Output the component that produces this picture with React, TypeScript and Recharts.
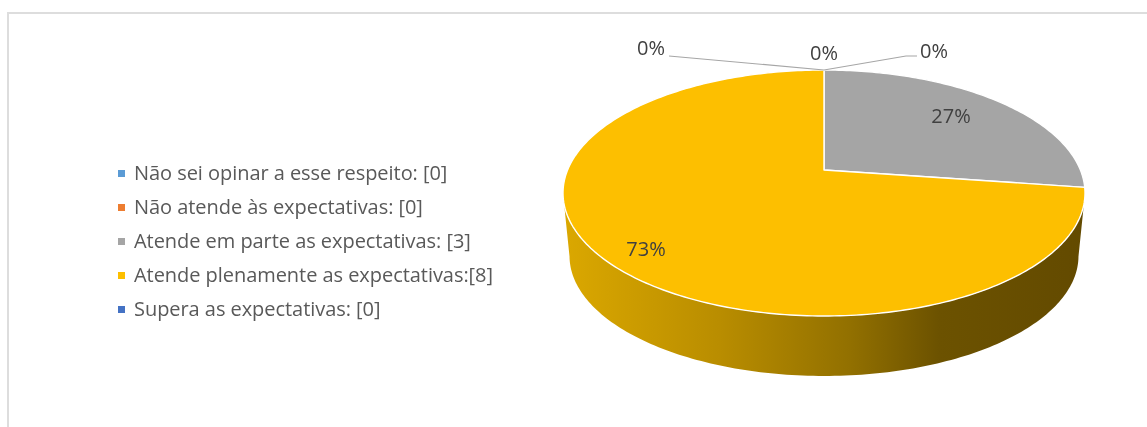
import { Cell, Legend, Pie, PieChart } from "recharts";

const CATEGORIES = [
  "Não sei opinar a esse respeito: [0]",
  "Não atende às expectativas: [0]",
  "Atende em parte as expectativas: [3]",
  "Atende plenamente as expectativas:[8]",
  "Supera as expectativas: [0]",
];
const VALUES = [0, 0, 3, 8, 0];
const COLORS = ["#5B9BD5", "#ED7D31", "#A5A5A5", "#FDBF00", "#4472C4"];

const data = CATEGORIES.map((name, i) => ({ name, value: VALUES[i] }));

const FONT = "'Open Sans', sans-serif";
const TEXT = "#595959";

// perspective of the tilted disc, the far edge comes out smaller than the near one
const TILT = 0.463;
const PERSP = 0.187;
const WALL_DROP = 63.6;
const WALL_SCALE = 0.975;

const project = (cx: number, cy: number, r: number, deg: number) => {
  const rad = (deg * Math.PI) / 180;
  const d = 1 + PERSP * Math.sin(rad);
  return [cx + (r * Math.cos(rad)) / d, cy - (r * TILT * Math.sin(rad)) / d];
};

const arcPoints = (cx: number, cy: number, r: number, from: number, to: number) => {
  const steps = Math.max(2, Math.ceil(Math.abs(to - from)));
  const pts: number[][] = [];
  for (let i = 0; i <= steps; i++) pts.push(project(cx, cy, r, from + ((to - from) * i) / steps));
  return pts;
};

const toPath = (pts: number[][]) => pts.map((p, i) => `${i ? "L" : "M"}${p[0].toFixed(2)} ${p[1].toFixed(2)}`).join("");

function TopFace(props: any) {
  const { cx, cy, outerRadius, startAngle, endAngle, fill } = props;
  if (Math.abs(startAngle - endAngle) < 0.01) return <g />;
  const d = `M${cx} ${cy}` + toPath(arcPoints(cx, cy, outerRadius, startAngle, endAngle)).replace("M", "L") + "Z";
  return <path d={d} fill={fill} stroke="#fff" strokeWidth={1.4} strokeLinejoin="round" />;
}

// side of the disc, only the part facing the viewer (between the two silhouette angles)
function WallFace(props: any) {
  const { cx, cy, outerRadius, startAngle, endAngle } = props;
  const from = Math.min(startAngle, -11);
  const to = Math.max(endAngle, -169);
  if (from <= to) return <g />;
  const upper = arcPoints(cx, cy, outerRadius, from, to);
  const lower = arcPoints(cx, cy + WALL_DROP, outerRadius * WALL_SCALE, to, from);
  return <path d={toPath([...upper, ...lower]) + "Z"} fill="url(#wall)" />;
}

// where each percentage sits, by slice index
const LABEL_SPOTS = [
  { x: 651, y: 47 },
  { x: 824, y: 52 },
  { x: 951, y: 115 },
  { x: 646, y: 248 },
  { x: 934, y: 50 },
];

function PercentLabel(props: any) {
  const { index, percent } = props;
  const spot = LABEL_SPOTS[index];
  return (
    <g>
      {index === 0 && <polyline points="669,56 824,70" fill="none" stroke="#A6A6A6" strokeWidth={1.2} />}
      {index === 4 && <polyline points="917,56 906,56 824,70" fill="none" stroke="#A6A6A6" strokeWidth={1.2} />}
      <text
        x={spot.x}
        y={spot.y}
        textAnchor="middle"
        dominantBaseline="central"
        fontFamily={FONT}
        fontSize={20}
        fill="#404040"
      >
        {`${Math.round(percent * 100)}%`}
      </text>
    </g>
  );
}

function LegendRows() {
  return (
    <div style={{ position: "absolute", left: 118, top: 156, fontFamily: FONT, fontSize: 20, letterSpacing: -0.05, color: TEXT, whiteSpace: "nowrap" }}>
      {CATEGORIES.map((name, i) => (
        <div key={name} style={{ height: 34, lineHeight: "34px", display: "flex", alignItems: "center" }}>
          <span style={{ width: 7, height: 7, marginRight: 9, background: COLORS[i], display: "inline-block" }} />
          {name}
        </div>
      ))}
    </div>
  );
}

export default function App() {
  return (
    <div style={{ position: "absolute", left: 0, top: 0, width: 1147, height: 427, background: "#fff", overflow: "hidden", filter: "blur(0.4px)" }}>
      <div style={{ position: "absolute", left: 7, top: 12, right: 0, bottom: 0, borderTop: "2px solid #DDDDDD", borderLeft: "2px solid #DDDDDD" }} />
      <PieChart width={1147} height={427} margin={{ top: 0, right: 0, bottom: 0, left: 0 }}>
        <defs>
          <linearGradient id="wall" x1="0" y1="0" x2="1" y2="0">
            <stop offset="0%" stopColor="#DBA800" />
            <stop offset="30%" stopColor="#B98D00" />
            <stop offset="55%" stopColor="#927000" />
            <stop offset="72%" stopColor="#6C5200" />
            <stop offset="100%" stopColor="#634A00" />
          </linearGradient>
        </defs>
        <Legend content={LegendRows} wrapperStyle={{ top: 0, left: 0, bottom: "auto", width: 0, height: 0 }} />
        <Pie
          data={data}
          dataKey="value"
          nameKey="name"
          cx={824}
          cy={170}
          outerRadius={256.4}
          startAngle={90}
          endAngle={-270}
          legendType="none"
          shape={WallFace}
          inactiveShape={WallFace}
          activeShape={WallFace}
          isAnimationActive={false}
        />
        <Pie
          data={data}
          dataKey="value"
          nameKey="name"
          cx={824}
          cy={170}
          outerRadius={256.4}
          startAngle={90}
          endAngle={-270}
          shape={TopFace}
          inactiveShape={TopFace}
          activeShape={TopFace}
          label={PercentLabel}
          labelLine={false}
          isAnimationActive={false}
        >
          {data.map((d, i) => (
            <Cell key={d.name} fill={COLORS[i]} />
          ))}
        </Pie>
      </PieChart>
    </div>
  );
}
